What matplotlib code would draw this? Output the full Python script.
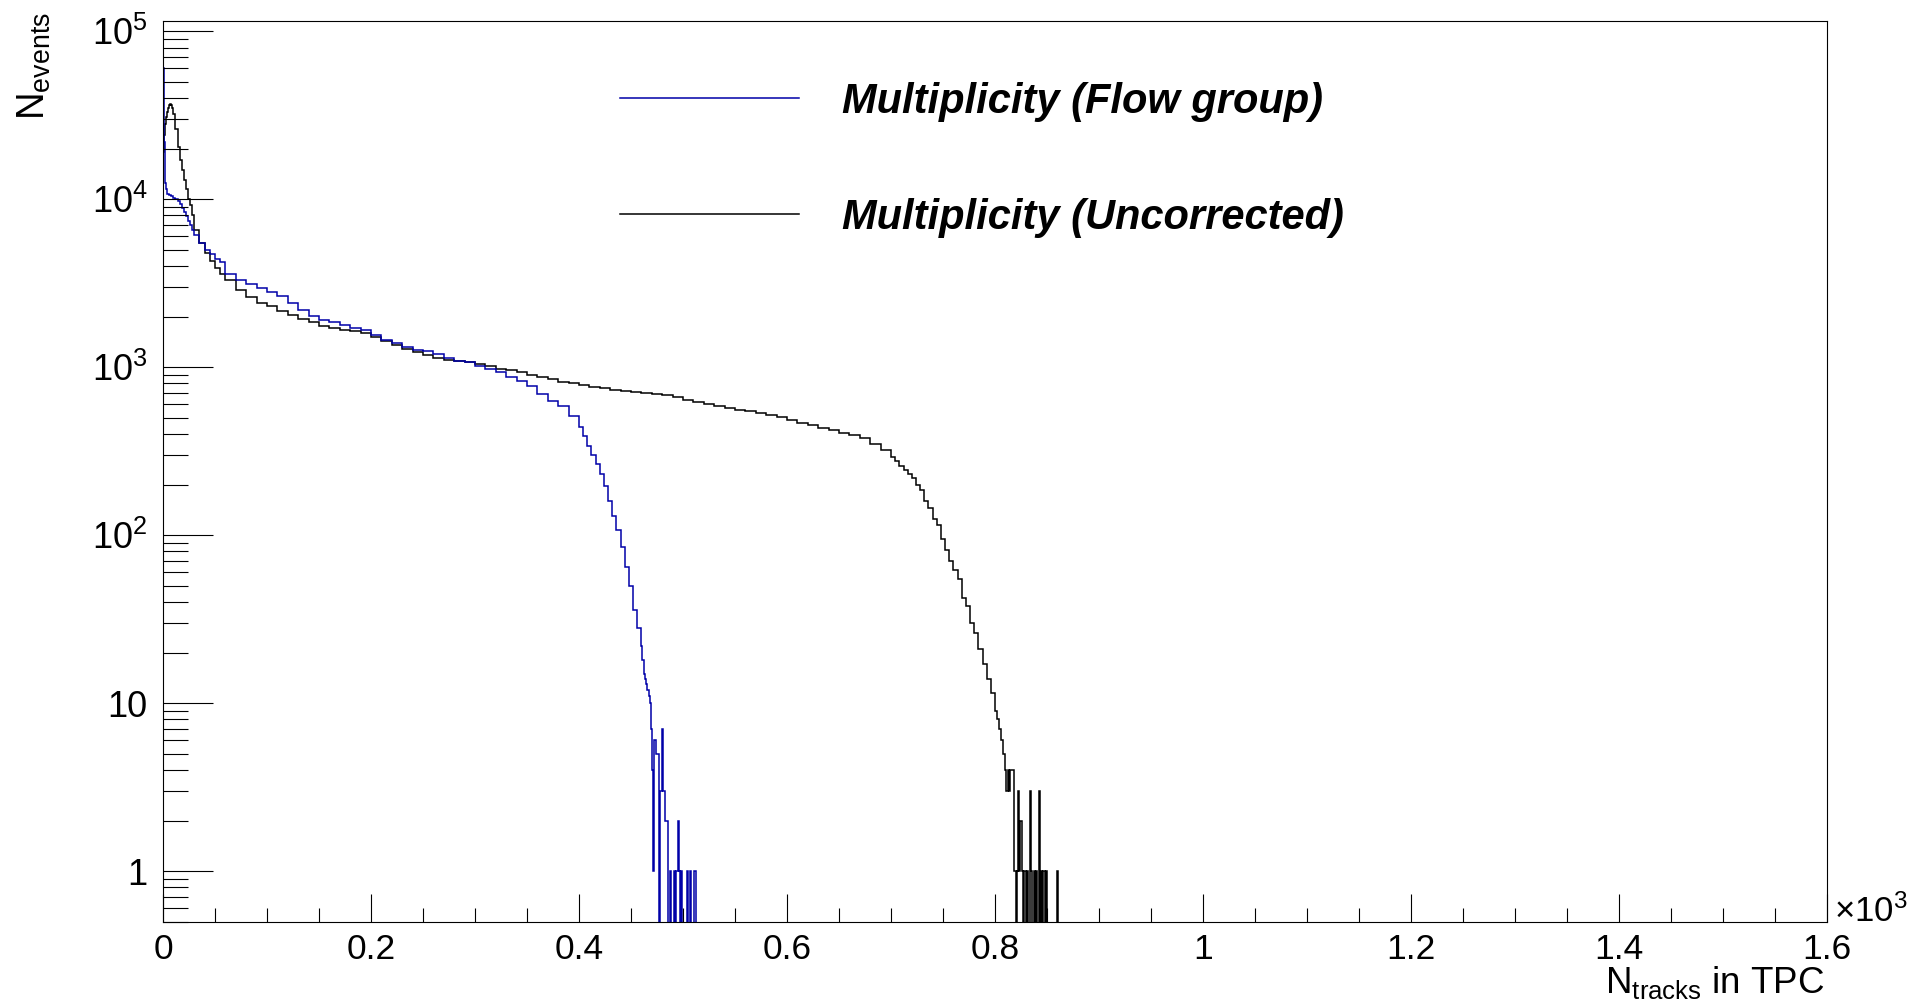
import numpy as np
import matplotlib
matplotlib.use("Agg")
import matplotlib.pyplot as plt
import matplotlib.ticker as ticker
from matplotlib.lines import Line2D

# ---- data: values (bin edges -> counts) ----
# Flow group multiplicity
blue_edges = np.concatenate([np.arange(0, 4, 1), np.arange(4, 30, 2), np.arange(30, 60, 5),
                             np.arange(60, 400, 10), np.arange(400, 460, 4), np.arange(460, 517, 1)])
blue_counts = [60000, 22000, 12500, 11500,
               10800, 10600, 10400, 10200, 10000, 9700, 9300, 8900, 8400, 7900, 7400, 7000, 6600,
               6100, 5500, 5000, 4700, 4400, 4200,
               3600, 3300, 3120, 2950, 2800, 2650, 2420, 2200, 2020, 1920, 1850, 1780, 1720, 1660,
               1560, 1460, 1400, 1320, 1260, 1240, 1190, 1130, 1090, 1070, 1010, 970, 935, 880,
               830, 770, 690, 630, 590, 510,
               440, 390, 340, 300, 265, 230, 195, 160, 130, 108, 85, 65, 50, 36, 28,
               22, 18, 15, 14, 13, 12, 12, 11, 10, 7, 4, 1, 6, 6, 5, 5, 5, 0, 3, 3, 7, 3, 3, 2,
               2, 2, 0, 1, 0, 0, 0, 1, 0, 1, 1, 2, 1, 0, 1, 0, 0, 0, 0, 0, 1, 0, 0, 1, 0, 0, 0,
               1, 0, 0, 0, 0]

# Uncorrected multiplicity
black_edges = np.concatenate([np.arange(0, 10, 1), np.arange(10, 30, 2), np.arange(30, 60, 5),
                              np.arange(60, 700, 10), np.arange(700, 800, 4), np.arange(800, 806, 2),
                              np.arange(806, 862, 1)])
black_counts = [19000, 24000, 28000, 31000, 33000, 35000, 36500, 37000, 36500, 35000,
                32000, 26000, 20500, 17000, 15000, 13000, 11500, 10000, 9200, 8000,
                6600, 5500, 4800, 4300, 3900, 3600,
                3300, 2900, 2600, 2420, 2300, 2160, 2040, 1930, 1850, 1770, 1700, 1670, 1640,
                1590, 1510, 1440, 1350, 1290, 1230, 1180, 1140, 1110, 1090, 1075, 1050, 1010,
                980, 965, 930, 900, 870, 850, 820, 800, 780, 765, 750, 735, 725, 715, 700, 690,
                680, 660, 640, 622, 605, 585, 570, 558, 545, 535, 522, 505, 485, 468, 452, 437,
                422, 408, 393, 378, 350, 320,
                290, 275, 258, 245, 232, 220, 200, 185, 160, 145, 125, 115, 95, 82, 70, 62, 55,
                42, 38, 30, 26, 21, 17, 14, 11.5,
                9, 8, 7,
                6, 6, 5, 5, 4, 3, 4, 3, 4, 4, 4, 4, 1, 1, 0, 1, 3, 1, 2, 2, 1, 0, 1, 1, 0, 1, 0,
                0, 3, 1, 0, 1, 0, 1, 0, 0, 3, 0, 1, 0, 1, 1, 0, 1, 0, 0, 0, 0, 0, 0, 0, 0, 0, 0, 1]

legend_labels = ["Multiplicity (Flow group)", "Multiplicity (Uncorrected)"]
blue = "#0000a8"
black = "#000000"

plt.rcParams['font.family'] = ['Liberation Sans', 'DejaVu Sans']
plt.rcParams['mathtext.fontset'] = 'custom'
plt.rcParams['mathtext.rm'] = 'Liberation Sans'
plt.rcParams['mathtext.it'] = 'Liberation Sans:italic'
plt.rcParams['mathtext.default'] = 'regular'

fig = plt.figure(figsize=(19.13, 10.06), dpi=100)
ax = fig.add_axes([0.0852, 0.0838, 0.8699, 0.8953])

# empty bins go below the frame like in ROOT
def nz(v):
    v = np.asarray(v, dtype=float)
    return np.where(v > 0, v, 1e-3)

ax.stairs(nz(black_counts), black_edges, color=black, lw=1.1, baseline=1e-3)
ax.stairs(nz(blue_counts), blue_edges, color=blue, lw=1.1, baseline=1e-3)

ax.set_yscale('log')
ax.set_xlim(0, 1600)
ax.set_ylim(0.5, 1.15e5)

# x axis, labels in units of 10^3
ax.xaxis.set_major_locator(ticker.MultipleLocator(200))
ax.xaxis.set_minor_locator(ticker.MultipleLocator(50))
ax.xaxis.set_major_formatter(ticker.FuncFormatter(lambda v, p: f'{v / 1000:g}'))

# y axis, ROOT style labels
def yfmt(v, p):
    e = int(round(np.log10(v)))
    if e == 0:
        return '1'
    if e == 1:
        return '10'
    return r'$10^{%d}$' % e

ax.yaxis.set_major_locator(ticker.LogLocator(base=10, numticks=20))
ax.yaxis.set_minor_locator(ticker.LogLocator(base=10, subs=np.arange(2, 10), numticks=60))
ax.yaxis.set_major_formatter(ticker.FuncFormatter(yfmt))
ax.yaxis.set_minor_formatter(ticker.NullFormatter())

ax.tick_params(axis='x', which='major', direction='in', length=20, width=0.8, labelsize=25.5, pad=8)
ax.tick_params(axis='x', which='minor', direction='in', length=10, width=0.8)
ax.tick_params(axis='y', which='major', direction='in', length=36, width=0.8, labelsize=26, pad=11)
ax.tick_params(axis='y', which='minor', direction='in', length=18, width=0.8)
for s in ax.spines.values():
    s.set_linewidth(0.8)

# axis titles
fig.text(1825 / 1913, 1 - 993 / 1006, r'N$_{tracks}$ in TPC', ha='right', va='baseline', fontsize=26.5)
fig.text(16 / 1913, 1 - 12 / 1006, r'N$_{events}$', rotation=90, ha='left', va='top', fontsize=27.5)
fig.text(1834 / 1913, 1 - 922 / 1006, r'$\times$10$^{3}$', ha='left', va='baseline', fontsize=25)

# legend (no frame)
for i, (lab, col) in enumerate(zip(legend_labels, [blue, black])):
    ly = 1 - (97.6 + 116 * i) / 1006
    fig.add_artist(Line2D([620 / 1913, 799 / 1913], [ly, ly], color=col, lw=1.1))
    fig.text(842 / 1913, 1 - (113 + 116 * i) / 1006, lab, ha='left', va='baseline',
             fontsize=30, fontweight='bold', fontstyle='italic')

fig.savefig('out.png', dpi=100)
